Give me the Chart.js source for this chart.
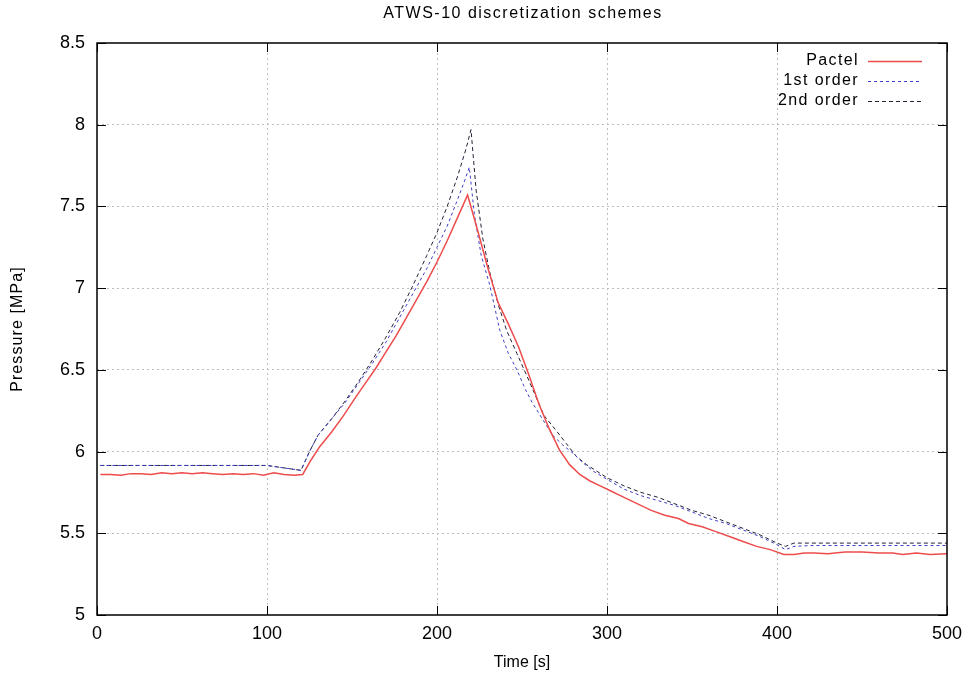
<!DOCTYPE html>
<html>
<head>
<meta charset="utf-8">
<script src="https://cdn.jsdelivr.net/npm/chart.js@4.4.0/dist/chart.umd.min.js"></script>
<style>
  html, body { margin: 0; padding: 0; background: #fff; }
  #wrap { width: 972px; height: 678px; }
</style>
</head>
<body>
<div id="wrap"><canvas id="c" width="972" height="678"></canvas></div>
<script>
// values
const pactelTime = [2, 8, 14, 20, 26, 32, 38, 44, 50, 56, 62, 68, 74, 80, 86, 92, 98, 104, 110, 116, 121,
  126, 131, 138, 145, 152, 158, 164, 170, 176, 182, 188, 194, 200, 206, 212, 218,
  224, 230, 236, 242, 248, 254, 260, 266, 272, 278, 284, 290, 296, 302, 310, 318, 326, 334, 342, 348,
  356, 364, 372, 380, 388, 396, 404, 410, 416, 422, 430, 440, 450, 460, 468, 474, 482, 490, 500];
const pactelP = [5.86, 5.86, 5.855, 5.865, 5.865, 5.86, 5.87, 5.865, 5.87, 5.865, 5.87, 5.865, 5.86, 5.865, 5.86, 5.865, 5.855, 5.87, 5.86, 5.855, 5.86,
  5.95, 6.03, 6.12, 6.22, 6.33, 6.42, 6.51, 6.61, 6.71, 6.82, 6.93, 7.04, 7.16, 7.29, 7.43, 7.57,
  7.35, 7.12, 6.91, 6.78, 6.64, 6.47, 6.29, 6.14, 6.01, 5.92, 5.86, 5.82, 5.79, 5.76, 5.72, 5.68, 5.64, 5.61, 5.59, 5.56,
  5.54, 5.51, 5.48, 5.45, 5.42, 5.40, 5.37, 5.37, 5.38, 5.38, 5.375, 5.385, 5.385, 5.38, 5.38, 5.37, 5.38, 5.37, 5.375];

const firstTime = [2, 20, 40, 60, 80, 100, 120, 125, 130, 138, 146, 154, 162, 170, 178, 186, 194, 200, 206, 212, 216, 219,
  222, 226, 231, 237, 242, 247, 252, 256, 262, 268, 274, 280, 286, 292, 300, 310, 320, 330, 340, 350, 360, 370, 380, 390, 400, 405,
  410, 420, 440, 460, 480, 500];
const firstP = [5.915, 5.915, 5.915, 5.915, 5.915, 5.915, 5.885, 6.0, 6.1, 6.2, 6.3, 6.42, 6.54, 6.67, 6.82, 6.97, 7.12, 7.25, 7.38, 7.54, 7.65, 7.74,
  7.45, 7.2, 7.02, 6.74, 6.6, 6.5, 6.38, 6.3, 6.2, 6.1, 6.04, 5.99, 5.93, 5.88, 5.83, 5.77, 5.73, 5.70, 5.67, 5.63, 5.59, 5.56, 5.52, 5.48, 5.43, 5.40,
  5.42, 5.425, 5.425, 5.425, 5.425, 5.425];

const secondTime = [2, 20, 40, 60, 80, 100, 120, 125, 130, 138, 146, 154, 162, 170, 178, 186, 194, 200, 206, 212, 217, 220,
  223, 227, 231, 236, 241, 247, 253, 258, 263, 270, 276, 282, 288, 294, 300, 310, 320, 330, 340, 350, 360, 370, 380, 390, 400, 405,
  410, 420, 440, 460, 480, 500];
const secondP = [5.915, 5.915, 5.915, 5.915, 5.915, 5.915, 5.885, 6.0, 6.1, 6.2, 6.31, 6.43, 6.56, 6.7, 6.85, 7.02, 7.2, 7.34, 7.5, 7.68, 7.85, 7.97,
  7.6, 7.3, 7.1, 6.9, 6.74, 6.6, 6.46, 6.34, 6.22, 6.13, 6.05, 5.97, 5.92, 5.88, 5.84, 5.79, 5.75, 5.72, 5.68, 5.64, 5.61, 5.57, 5.53, 5.49, 5.44, 5.42,
  5.44, 5.44, 5.44, 5.44, 5.44, 5.44];

const seriesLabels = ['Pactel', '1st order', '2nd order'];
const xTicks = [0, 100, 200, 300, 400, 500];
const yTicks = [5, 5.5, 6, 6.5, 7, 7.5, 8, 8.5];
const chartTitle = 'ATWS-10 discretization schemes';
const yTitle = 'Pressure [MPa]';

const FONT = 'Liberation Sans, Arial, sans-serif';

function pts(ts, vs) {
  return ts.map((t, i) => ({ x: t, y: vs[i] }));
}

// gnuplot style frame: box border, inward ticks on all sides, titles and legend
const framePlugin = {
  id: 'frame',
  afterDatasetsDraw(chart) {
    const { ctx, chartArea: a, scales } = chart;
    ctx.save();
    ctx.strokeStyle = '#000';
    ctx.lineWidth = 1;
    ctx.beginPath();
    const tl = 9;
    xTicks.forEach(v => {
      const x = Math.round(scales.x.getPixelForValue(v)) + 0.5;
      ctx.moveTo(x, a.bottom); ctx.lineTo(x, a.bottom - tl);
      ctx.moveTo(x, a.top); ctx.lineTo(x, a.top + tl);
    });
    yTicks.forEach(v => {
      const y = Math.round(scales.y.getPixelForValue(v)) + 0.5;
      ctx.moveTo(a.left, y); ctx.lineTo(a.left + tl, y);
      ctx.moveTo(a.right, y); ctx.lineTo(a.right - tl, y);
    });
    ctx.stroke();
    ctx.lineWidth = 1.5;
    ctx.strokeRect(a.left, a.top, a.right - a.left, a.bottom - a.top);

    ctx.fillStyle = '#000';
    ctx.textBaseline = 'middle';
    ctx.letterSpacing = '1.5px';

    // title
    ctx.font = '16px ' + FONT;
    ctx.textAlign = 'center';
    ctx.fillText(chartTitle, (a.left + a.right) / 2 + 1, 14);

    // y axis title
    ctx.save();
    ctx.translate(18, (a.top + a.bottom) / 2);
    ctx.rotate(-Math.PI / 2);
    ctx.letterSpacing = '1.1px';
    ctx.fillText(yTitle, 0, 0);
    ctx.restore();

    // legend
    ctx.textAlign = 'right';
    ctx.letterSpacing = '1.4px';
    chart.data.datasets.forEach((ds, i) => {
      const y = a.top + 18 + i * 20;
      ctx.fillStyle = '#000';
      ctx.fillText(ds.label, a.right - 88, y);
      ctx.strokeStyle = ds.borderColor;
      ctx.lineWidth = ds.borderWidth;
      ctx.setLineDash(ds.borderDash || []);
      ctx.beginPath();
      ctx.moveTo(a.right - 79, y + 0.5);
      ctx.lineTo(a.right - 25, y + 0.5);
      ctx.stroke();
      ctx.setLineDash([]);
    });
    ctx.restore();
  }
};

new Chart(document.getElementById('c'), {
  type: 'line',
  data: {
    datasets: [
      {
        label: seriesLabels[0],
        data: pts(pactelTime, pactelP),
        borderColor: '#ee4c4c',
        borderWidth: 1.5,
        pointRadius: 0,
        tension: 0
      },
      {
        label: seriesLabels[1],
        data: pts(firstTime, firstP),
        borderColor: '#3c3cc8',
        borderWidth: 1,
        borderDash: [3, 3],
        pointRadius: 0,
        tension: 0
      },
      {
        label: seriesLabels[2],
        data: pts(secondTime, secondP),
        borderColor: '#222238',
        borderWidth: 1,
        borderDash: [4, 3],
        pointRadius: 0,
        tension: 0
      }
    ]
  },
  options: {
    responsive: false,
    animation: false,
    events: [],
    layout: { padding: { left: 0, right: 25, top: 43, bottom: 0 } },
    plugins: {
      legend: { display: false },
      tooltip: { enabled: false },
      title: { display: false }
    },
    scales: {
      x: {
        type: 'linear',
        min: 0,
        max: 500,
        afterBuildTicks: s => { s.ticks = xTicks.map(v => ({ value: v })); },
        afterFit: s => { s.height = 63; },
        border: { display: false, dash: [2, 3] },
        grid: {
          drawTicks: false,
          color: c => (c.tick.value === 0 || c.tick.value === 500) ? 'rgba(0,0,0,0)' : '#bdbdbd',
          lineWidth: 1
        },
        ticks: { color: '#000', padding: 8, font: { family: FONT, size: 18 }, maxRotation: 0, callback: v => String(v) },
        title: {
          display: true,
          text: 'Time [s]',
          color: '#000',
          font: { family: FONT, size: 16, lineHeight: 1.2 },
          padding: { top: 0, bottom: 6 }
        }
      },
      y: {
        min: 5,
        max: 8.5,
        afterBuildTicks: s => { s.ticks = yTicks.map(v => ({ value: v })); },
        afterFit: s => { s.width = 97; },
        border: { display: false, dash: [2, 3] },
        grid: {
          drawTicks: false,
          color: c => (c.tick.value === 5 || c.tick.value === 8.5) ? 'rgba(0,0,0,0)' : '#bdbdbd',
          lineWidth: 1
        },
        ticks: { color: '#000', padding: 12, font: { family: FONT, size: 18 }, callback: v => String(v) }
      }
    }
  },
  plugins: [framePlugin]
});
</script>
</body>
</html>
